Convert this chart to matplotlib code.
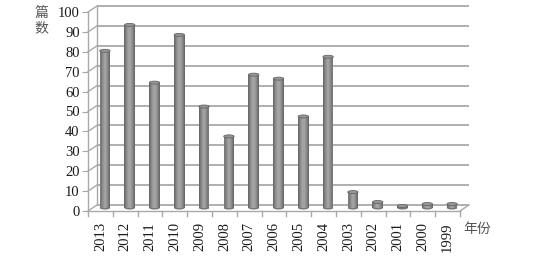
import matplotlib
matplotlib.use("Agg")
import matplotlib.pyplot as plt
import matplotlib.transforms as mtransforms
from matplotlib.patches import Ellipse
import numpy as np

years = ["2013", "2012", "2011", "2010", "2009", "2008", "2007", "2006",
         "2005", "2004", "2003", "2002", "2001", "2000", "1999"]
counts = [79, 92, 63, 87, 51, 36, 67, 65, 46, 76, 8, 3, 1, 2, 2]
yticks = [0, 10, 20, 30, 40, 50, 60, 70, 80, 90, 100]
ylabel = "篇\n数"
xlabel = "年份"

DPI = 100
fig = plt.figure(figsize=(5.53, 2.62), dpi=DPI)
W, H = 553, 262
x0, x1, y0, y1 = 88, 460, 211, 12
ax = fig.add_axes([x0 / W, (H - y0) / H, (x1 - x0) / W, (y0 - y1) / H])
n = len(years)
ax.set_xlim(-0.5, n - 0.5)
ax.set_ylim(0, 100)
for s in ax.spines.values():
    s.set_visible(False)

def offset(dx, dy):
    return ax.transData + mtransforms.ScaledTranslation(dx / DPI, dy / DPI, fig.dpi_scale_trans)

DX, DY = 9, 6
grid_c = "#a9a9a9"
back = offset(DX, DY)
# back wall gridlines
for v in yticks:
    ax.plot([-0.5, n - 0.5], [v, v], color=grid_c, lw=1.3, transform=back,
            clip_on=False, zorder=1, solid_capstyle="butt")
# left wall diagonals
for v in yticks:
    xa = ax.transData.transform((-0.5, v))
    ax.plot([xa[0], xa[0] + DX], [xa[1], xa[1] + DY], color=grid_c, lw=1.0,
            transform=None, clip_on=False, zorder=1)
# left wall vertical lines
ax.plot([-0.5, -0.5], [0, 100], color=grid_c, lw=1.0, clip_on=False, zorder=1)
ax.plot([-0.5, -0.5], [0, 100], color=grid_c, lw=1.0, transform=back, clip_on=False, zorder=1)
# floor
ax.plot([-0.5, n - 0.5], [0, 0], color=grid_c, lw=1.0, clip_on=False, zorder=1)
xr = ax.transData.transform((n - 0.5, 0))
ax.plot([xr[0], xr[0] + DX], [xr[1], xr[1] + DY], color=grid_c, lw=1.0,
        transform=None, clip_on=False, zorder=1)

# bars (cylinders) at mid depth
mid = offset(DX / 2, DY / 2)
x = np.arange(n)
bw = 0.42
layers = [(1.00, "#686868"), (0.85, "#7a7a7a"), (0.65, "#8a8a8a"),
          (0.45, "#969696"), (0.25, "#a2a2a2")]
for frac, col in layers:
    ax.bar(x, counts, width=bw * frac, color=col, linewidth=0,
           transform=mid, zorder=3, clip_on=False)
ppu = (y0 - y1) / 100.0
for xi, c in zip(x, counts):
    e = Ellipse((xi, c), width=bw, height=3.0 / ppu, transform=mid,
                facecolor="#969696", edgecolor="#666666", lw=0.6, zorder=4,
                clip_on=False)
    ax.add_patch(e)
    e2 = Ellipse((xi, 0), width=bw, height=3.0 / ppu, transform=mid,
                 facecolor="#777777", edgecolor="none", zorder=2.9, clip_on=False)
    ax.add_patch(e2)

# ticks
serif = "Liberation Serif"
ax.set_yticks(yticks)
ax.set_yticklabels([str(v) for v in yticks], fontfamily=serif, fontsize=10.5, color="#1a1a1a")
ax.tick_params(axis="y", length=4, color=grid_c, pad=2)
ax.set_xticks(x)
ax.set_xticklabels(years, rotation=90, fontfamily=serif, fontsize=10.5, color="#1a1a1a")
ax.tick_params(axis="x", length=0, pad=8)
for b in np.arange(-0.5, n, 1.0):
    ax.plot([b, b], [0, -2.5], color=grid_c, lw=1.0, clip_on=False, zorder=1)

fig.text(41 / W, 1 - 21 / H, ylabel, ha="center", va="center",
         fontfamily=["Noto Sans CJK SC", "DejaVu Sans"], fontsize=10,
         color="#555555", linespacing=1.05)
fig.text(463 / W, 1 - 229 / H, xlabel, ha="left", va="center",
         fontfamily=["Noto Sans CJK SC", "DejaVu Sans"], fontsize=10,
         color="#555555")

fig.savefig("out.png", dpi=DPI)
